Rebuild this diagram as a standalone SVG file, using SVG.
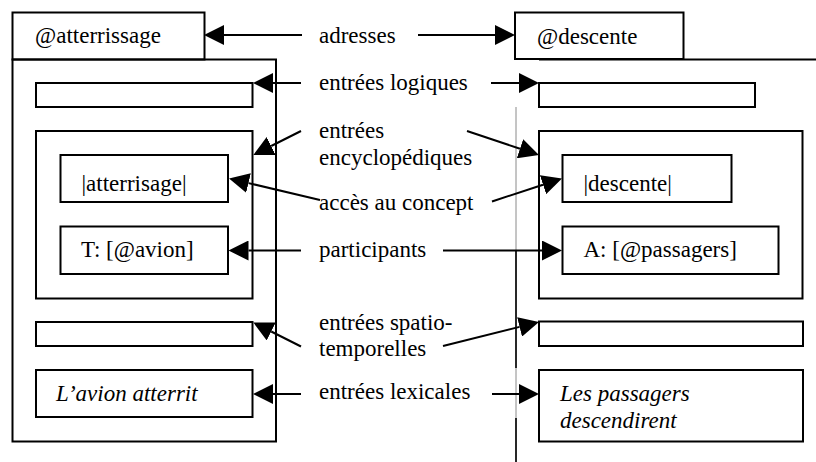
<svg xmlns="http://www.w3.org/2000/svg" width="816" height="462" viewBox="0 0 816 462">
<style>
.box{fill:none;stroke:#000;stroke-width:2}
text{font-family:'Liberation Serif','Times New Roman',Tinos,'Nimbus Roman','DejaVu Serif',serif;font-size:23px;fill:#000}
.i{font-style:italic}
.c{stroke:#000;stroke-width:2;fill:none}
.g{stroke:#8a8a8a;stroke-width:1;fill:none}
.k{stroke:#000;stroke-width:1.6;fill:none}
</style>
<defs>
<marker id="ah" markerUnits="userSpaceOnUse" markerWidth="20" markerHeight="20" viewBox="0 0 20 20" refX="0" refY="10" orient="auto">
<path d="M0,0 L20,10 L0,20 z" fill="#000"/>
</marker>
</defs>
<rect width="816" height="462" fill="#fff"/>

<g id="left-address"><rect class="box" x="12.5" y="12.5" width="192" height="47"/><text font-family="Liberation Serif, serif" x="35" y="43">@atterrissage</text></g>
<g id="left-frame"><rect class="box" x="12.5" y="59.5" width="263.5" height="382"/></g>
<g id="left-logical"><rect class="box" x="36" y="83" width="216.5" height="24"/></g>
<g id="left-encyclopedic"><rect class="box" x="36" y="131" width="216.5" height="167.5"/></g>
<g id="left-concept"><rect class="box" x="60.5" y="155" width="167.5" height="47"/><text x="81.5" y="191">|atterrisage|</text></g>
<g id="left-participant"><rect class="box" x="60.5" y="226.5" width="167.5" height="47.5"/><text x="81" y="257">T: [@avion]</text></g>
<g id="left-spatiotemporal"><rect class="box" x="36" y="322" width="216.5" height="24"/></g>
<g id="left-lexical"><rect class="box" x="36" y="370" width="216.5" height="47"/><text class="i" x="56" y="401">L’avion atterrit</text></g>

<g id="right-address"><rect class="box" x="515" y="12.5" width="168.5" height="46.5"/><text x="537" y="44">@descente</text></g>
<g id="right-frame"><line class="c" x1="539" y1="59.5" x2="816" y2="59.5"/><line class="g" x1="516" y1="107" x2="516" y2="462"/><line class="k" x1="516" y1="250" x2="516" y2="368"/><line class="k" x1="516" y1="418" x2="516" y2="462"/></g>
<g id="right-logical"><rect class="box" x="539" y="83" width="216" height="24"/></g>
<g id="right-encyclopedic"><rect class="box" x="539" y="131" width="263.5" height="167.5"/></g>
<g id="right-concept"><rect class="box" x="562.5" y="155" width="169" height="47"/><text x="583.5" y="191">|descente|</text></g>
<g id="right-participant"><rect class="box" x="562.5" y="226.5" width="216" height="47.5"/><text x="583.5" y="257">A: [@passagers]</text></g>
<g id="right-spatiotemporal"><rect class="box" x="539" y="321.5" width="264" height="24.5"/></g>
<g id="right-lexical"><rect class="box" x="539" y="370" width="264" height="71.5"/><text class="i" x="560" y="401">Les passagers</text><text class="i" x="560" y="428">descendirent</text></g>

<g id="label-adresses"><text x="319" y="42.5">adresses</text></g>
<g id="label-logiques"><text x="319" y="89.5">entrées logiques</text></g>
<g id="label-encyclopediques"><text x="319" y="138">entrées</text><text x="319" y="165">encyclopédiques</text></g>
<g id="label-concept"><text x="319" y="210">accès au concept</text></g>
<g id="label-participants"><text x="319" y="256.5">participants</text></g>
<g id="label-spatiotemporelles"><text x="319" y="329.5">entrées spatio-</text><text x="319" y="356">temporelles</text></g>
<g id="label-lexicales"><text x="319" y="398.5">entrées lexicales</text></g>

<g id="connectors">
<line class="c" x1="302" y1="35" x2="224" y2="35" marker-end="url(#ah)"/>
<line class="c" x1="418" y1="35" x2="495" y2="35" marker-end="url(#ah)"/>
<line class="c" x1="301" y1="83" x2="273" y2="83" marker-end="url(#ah)"/>
<line class="c" x1="491" y1="83" x2="519" y2="83" marker-end="url(#ah)"/>
<line class="c" x1="301" y1="131" x2="271.2" y2="146" marker-end="url(#ah)"/>
<line class="c" x1="467" y1="131" x2="520" y2="148.7" marker-end="url(#ah)"/>
<line class="c" x1="320" y1="200" x2="248.5" y2="183.1" marker-end="url(#ah)"/>
<line class="c" x1="492" y1="201.5" x2="543" y2="184.7" marker-end="url(#ah)"/>
<line class="c" x1="301" y1="250.5" x2="248.5" y2="250.5" marker-end="url(#ah)"/>
<line class="c" x1="443" y1="250.5" x2="542" y2="250.5" marker-end="url(#ah)"/>
<line class="c" x1="301" y1="346.5" x2="271.2" y2="331.5" marker-end="url(#ah)"/>
<line class="c" x1="443" y1="346" x2="519.6" y2="326.9" marker-end="url(#ah)"/>
<line class="c" x1="301" y1="394" x2="273" y2="394" marker-end="url(#ah)"/>
<line class="c" x1="492" y1="394" x2="519" y2="394" marker-end="url(#ah)"/>
</g>
</svg>
